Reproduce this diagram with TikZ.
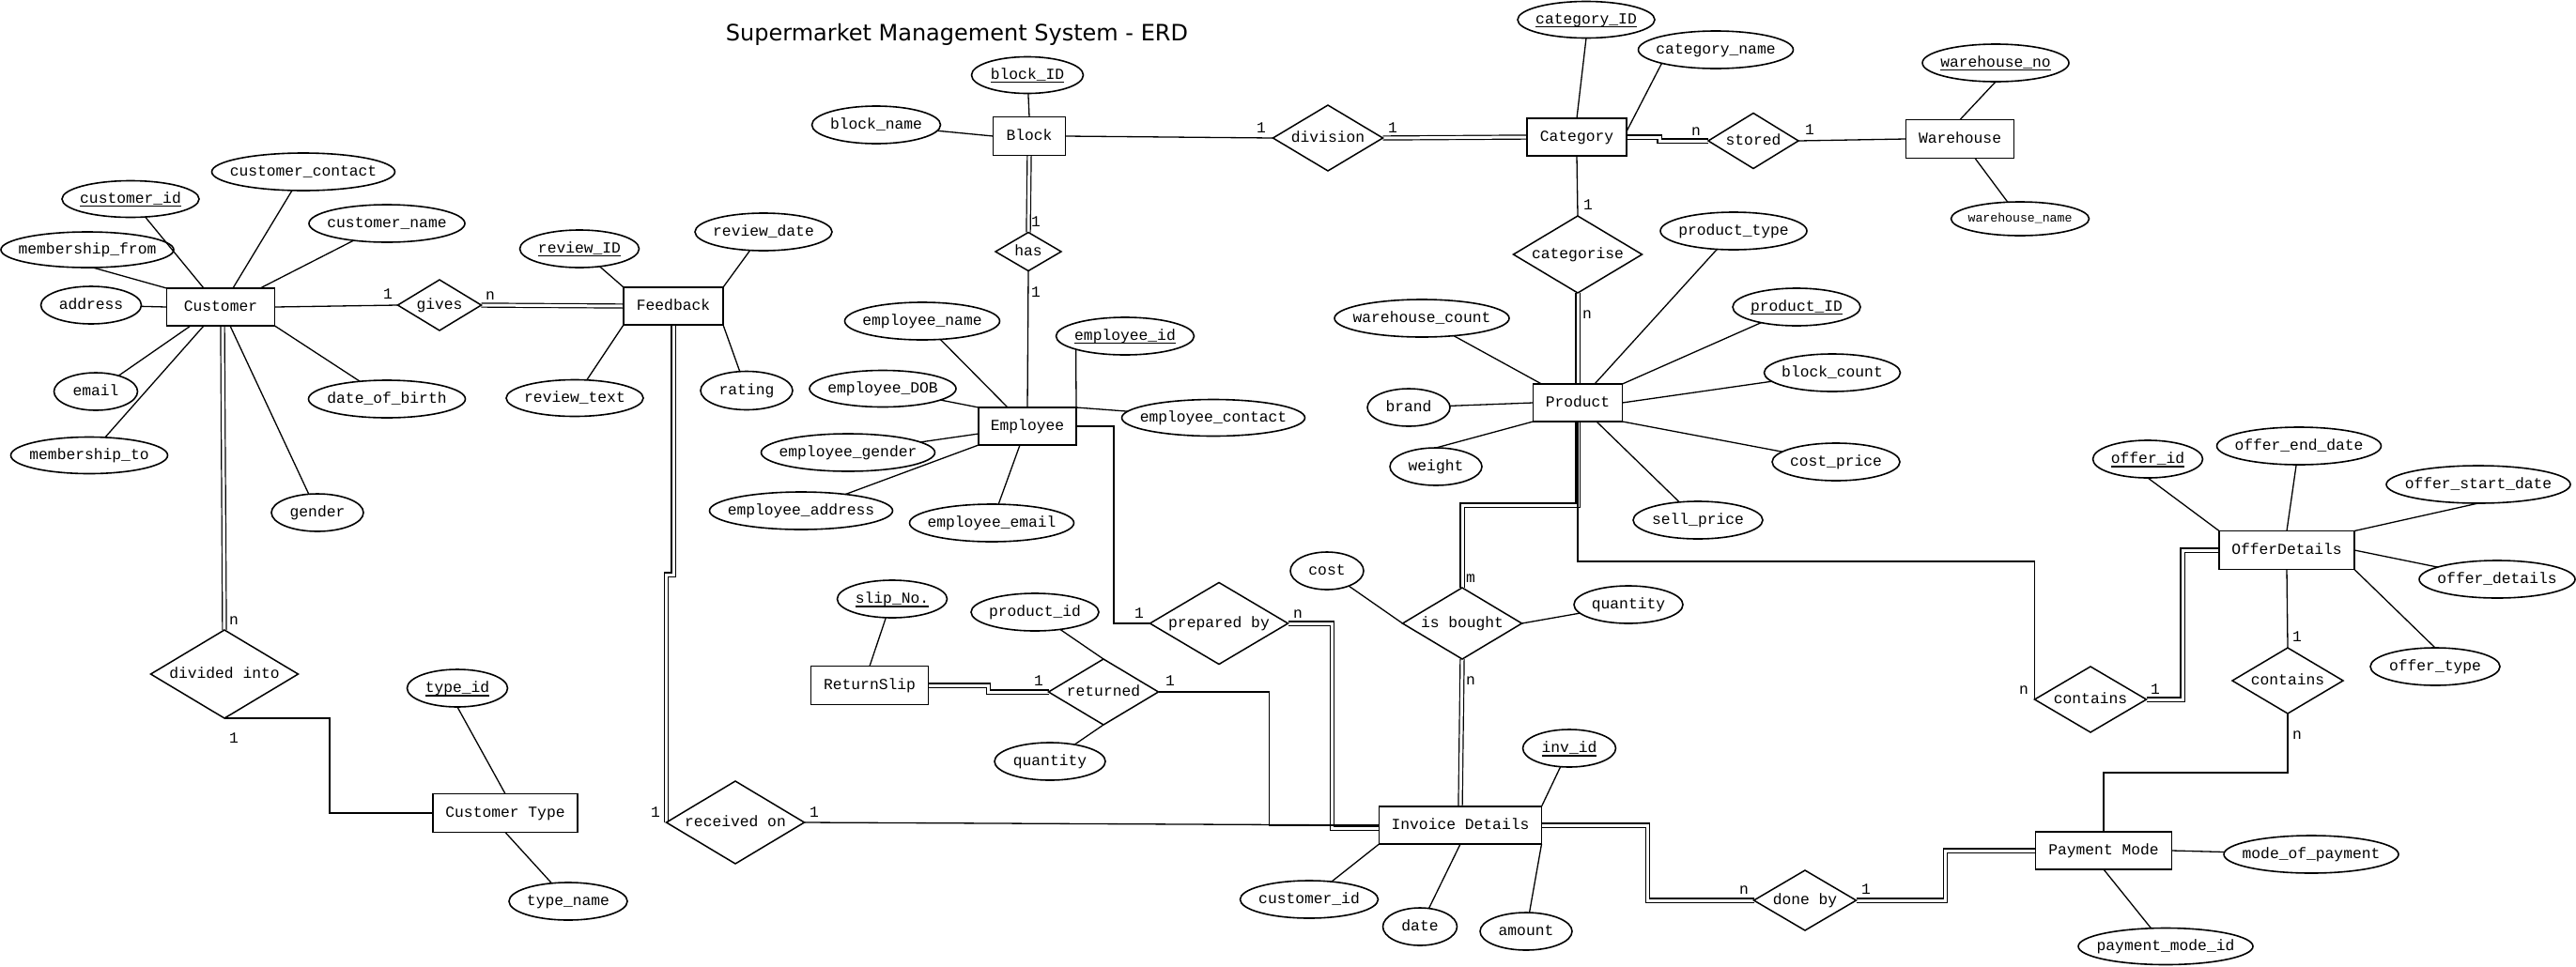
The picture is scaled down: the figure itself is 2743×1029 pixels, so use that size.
\documentclass[tikz,border=0pt]{standalone}
\usepackage{fontspec}
\newfontfamily\erdfont{Liberation Mono}
\newfontfamily\titlefont{DejaVu Sans}
\usetikzlibrary{shapes.geometric,calc}
\pgfdeclarelayer{paper}
\pgfdeclarelayer{bg}
\pgfsetlayers{paper,bg,main}
\newcommand\ct[1]{\makebox[0pt]{\raisebox{-0.3em}[0pt][0pt]{#1}}}
\newcommand\keyu[1]{\setbox0\hbox{#1}\rlap{\rule[-3.6pt]{\wd0}{1.6pt}}\box0}
\begin{document}
\begin{tikzpicture}[x=1pt,y=-1pt,
 every node/.style={inner sep=0pt, outer sep=0pt, font=\erdfont\fontsize{16.3}{18}\selectfont},
 ent/.style 2 args={rectangle, draw, line width=1.8pt, minimum width=#1, minimum height=#2},
 rel/.style 2 args={diamond, draw, line width=1.5pt, minimum width=#1, minimum height=#2},
 attr/.style 2 args={ellipse, draw, line width=1.6pt, minimum width=#1, minimum height=#2},
 lab/.style={},
 conn/.style={line width=1.3pt},
 dbl/.style={double, double distance=3pt, line width=1.2pt},
]
\begin{pgfonlayer}{paper}
\fill[white] (0,0) rectangle (2743,1029);
\end{pgfonlayer}
\useasboundingbox (0,0) rectangle (2743,1029);

\node[font=\titlefont\fontsize{24}{28}\selectfont, anchor=base] (title) at (1019,43) {Supermarket Management System - ERD};

% entities
\node[ent={115}{40}] (cust) at (235,327) {\ct{Customer}};
\node[ent={106}{40}] (fb) at (717,326) {\ct{Feedback}};
\node[ent={77}{41}] (blk) at (1096,145) {\ct{Block}};
\node[ent={104}{40}] (emp) at (1094,454) {\ct{Employee}};
\node[ent={106}{40}] (cat) at (1679,146) {\ct{Category}};
\node[ent={115}{41}] (wh) at (2087,148) {\ct{Warehouse}};
\node[ent={95}{40}] (prod) at (1680,429) {\ct{Product}};
\node[ent={144}{41}] (off) at (2435,586) {\ct{OfferDetails}};
\node[ent={145}{40}] (pay) at (2240,906) {\ct{Payment Mode}};
\node[ent={173}{40}] (inv) at (1555,879) {\ct{Invoice Details}};
\node[ent={125}{41}] (rs) at (926,730) {\ct{ReturnSlip}};
\node[ent={154}{41}] (ctype) at (538,866) {\ct{Customer Type}};

% relationships
\node[rel={89}{54}] (gives) at (468,325) {\ct{gives}};
\node[rel={70}{41}] (has) at (1095,268) {\ct{has}};
\node[rel={117}{70}] (div) at (1414,147) {\ct{division}};
\node[rel={96}{59}] (stored) at (1867,150) {\ct{stored}};
\node[rel={137}{82}] (catz) at (1680,271) {\ct{categorise}};
\node[rel={127}{76}] (isb) at (1557,664) {\ct{is bought}};
\node[rel={147}{87}] (prep) at (1298,664) {\ct{prepared by}};
\node[rel={117}{70}] (ret) at (1175,737) {\ct{returned}};
\node[rel={147}{88}] (recv) at (783,876) {\ct{received on}};
\node[rel={157}{94}] (divi) at (239,718) {\ct{divided into}};
\node[rel={109}{64}] (doneby) at (1922,959) {\ct{done by}};
\node[rel={119}{70}] (cont1) at (2226,745) {\ct{contains}};
\node[rel={118}{70}] (cont2) at (2436,725) {\ct{contains}};

% attributes
\node[attr={146}{39}] (cid) at (139,212) {\ct{\keyu{customer\_id}}};
\node[attr={184}{38}] (mfrom) at (93,266) {\ct{membership\_from}};
\node[attr={195}{40}] (ccontact) at (323,183) {\ct{customer\_contact}};
\node[attr={166}{40}] (cname) at (412,238) {\ct{customer\_name}};
\node[attr={107}{40}] (addr) at (97,325) {\ct{address}};
\node[attr={89}{40}] (email) at (102,417) {\ct{email}};
\node[attr={167}{39}] (mto) at (95,485) {\ct{membership\_to}};
\node[attr={167}{40}] (dob) at (412,425) {\ct{date\_of\_birth}};
\node[attr={98}{40}] (gender) at (338,546) {\ct{gender}};
\node[attr={127}{40}] (rid) at (617,265) {\ct{\keyu{review\_ID}}};
\node[attr={146}{39}] (rtext) at (612,424) {\ct{review\_text}};
\node[attr={146}{40}] (rdate) at (813,247) {\ct{review\_date}};
\node[attr={98}{41}] (rating) at (795,416) {\ct{rating}};
\node[attr={119}{39}] (bid) at (1094,80) {\ct{\keyu{block\_ID}}};
\node[attr={137}{40}] (bname) at (933,133) {\ct{block\_name}};
\node[attr={165}{40}] (ename) at (982,342) {\ct{employee\_name}};
\node[attr={147}{40}] (eid) at (1198,358) {\ct{\keyu{employee\_id}}};
\node[attr={195}{39}] (econtact) at (1292,445) {\ct{employee\_contact}};
\node[attr={156}{39}] (edob) at (940,414) {\ct{employee\_DOB}};
\node[attr={185}{40}] (egender) at (903,482) {\ct{employee\_gender}};
\node[attr={195}{40}] (eaddr) at (853,544) {\ct{employee\_address}};
\node[attr={175}{40}] (eemail) at (1056,557) {\ct{employee\_email}};
\node[attr={146}{39}] (catid) at (1689,21) {\ct{\keyu{category\_ID}}};
\node[attr={165}{40}] (catname) at (1827,53) {\ct{category\_name}};
\node[attr={156}{40}] (wno) at (2125,67) {\ct{\keyu{warehouse\_no}}};
\node[attr={147}{36}, font=\erdfont\fontsize{13.2}{15}\selectfont] (wname) at (2151,233) {\ct{warehouse\_name}};
\node[attr={156}{40}] (ptype) at (1846,246) {\ct{product\_type}};
\node[attr={136}{40}] (pid2) at (1913,327) {\ct{\keyu{product\_ID}}};
\node[attr={186}{40}] (wcount) at (1514,339) {\ct{warehouse\_count}};
\node[attr={145}{40}] (bcount) at (1951,397) {\ct{block\_count}};
\node[attr={88}{40}] (brand) at (1500,434) {\ct{brand}};
\node[attr={98}{40}] (weight) at (1529,497) {\ct{weight}};
\node[attr={136}{40}] (cprice) at (1955,492) {\ct{cost\_price}};
\node[attr={138}{40}] (sprice) at (1808,554) {\ct{sell\_price}};
\node[attr={78}{40}] (cost) at (1413,608) {\ct{cost}};
\node[attr={116}{40}] (bqty) at (1734,644) {\ct{quantity}};
\node[attr={99}{40}] (invid) at (1671,797) {\ct{\keyu{inv\_id}}};
\node[attr={147}{40}] (icust) at (1394,958) {\ct{customer\_id}};
\node[attr={79}{40}] (date) at (1512,987) {\ct{date}};
\node[attr={98}{40}] (amount) at (1625,992) {\ct{amount}};
\node[attr={117}{40}] (oid) at (2287,489) {\ct{\keyu{offer\_id}}};
\node[attr={175}{40}] (oend) at (2448,475) {\ct{offer\_end\_date}};
\node[attr={196}{40}] (ostart) at (2639,516) {\ct{offer\_start\_date}};
\node[attr={166}{40}] (odet) at (2659,617) {\ct{offer\_details}};
\node[attr={138}{40}] (otype) at (2593,710) {\ct{offer\_type}};
\node[attr={186}{40}] (mop) at (2461,910) {\ct{mode\_of\_payment}};
\node[attr={186}{39}] (pmid) at (2306,1008) {\ct{payment\_mode\_id}};
\node[attr={117}{40}] (slip) at (950,638) {\ct{\keyu{slip\_No.}}};
\node[attr={136}{40}] (rpid) at (1102,652) {\ct{product\_id}};
\node[attr={118}{40}] (rqty) at (1118,811) {\ct{quantity}};
\node[attr={107}{40}] (tid) at (487,733) {\ct{\keyu{type\_id}}};
\node[attr={126}{40}] (tname) at (605,960) {\ct{type\_name}};

% cardinality labels
\node[lab] (l1) at (413,314) {\ct{1}};
\node[lab] (l2) at (522,315) {\ct{n}};
\node[lab] (l3) at (1103,237) {\ct{1}};
\node[lab] (l4) at (1103,312) {\ct{1}};
\node[lab] (l5) at (1343,137) {\ct{1}};
\node[lab] (l6) at (1483,137) {\ct{1}};
\node[lab] (l7) at (1806,140) {\ct{n}};
\node[lab] (l8) at (1927,139) {\ct{1}};
\node[lab] (l9) at (1691,219) {\ct{1}};
\node[lab] (l10) at (1690,335) {\ct{n}};
\node[lab] (l11) at (1566,616) {\ct{m}};
\node[lab] (l12) at (1566,725) {\ct{n}};
\node[lab] (l13) at (2155,735) {\ct{n}};
\node[lab] (l14) at (2295,735) {\ct{1}};
\node[lab] (l15) at (2446,679) {\ct{1}};
\node[lab] (l16) at (2446,783) {\ct{n}};
\node[lab] (l17) at (1857,948) {\ct{n}};
\node[lab] (l18) at (1987,948) {\ct{1}};
\node[lab] (l19) at (1213,654) {\ct{1}};
\node[lab] (l20) at (1382,654) {\ct{n}};
\node[lab] (l21) at (1106,726) {\ct{1}};
\node[lab] (l22) at (1246,726) {\ct{1}};
\node[lab] (l23) at (698,866) {\ct{1}};
\node[lab] (l24) at (867,866) {\ct{1}};
\node[lab] (l25) at (249,661) {\ct{n}};
\node[lab] (l26) at (249,787) {\ct{1}};

\begin{pgfonlayer}{bg}
% double (total participation) lines first
\draw[dbl] (gives.east) -- (fb.west);
\draw[dbl] (fb.south) -- ($(fb.south)+(0,266)$) -| (recv.west);
\draw[dbl] (blk.south) -- (has.north);
\draw[dbl] (div.east) -- (cat.west);
\draw[dbl] (prep.east) -| ($(inv.west)+(-50,3)$) -- ($(inv.west)+(0,3)$);
\draw[dbl] (cat.east) -- ($(cat.east)+(35,0)$) |- (stored.west);
\draw[dbl] (catz.south) -- (prod.north);
\draw[dbl] (prod.south) -- ($(prod.south)+(0,89)$) -| (isb.north);
\draw[dbl] (isb.south) -- (inv.north);
\draw[dbl] (inv.east) -| ($(doneby.west)+(-113,0)$) -- (doneby.west);
\draw[dbl] (doneby.east) -| ($(pay.west)+(-96,0)$) -- (pay.west);
\draw[dbl] (cont1.east) -| ($(off.west)+(-39,0)$) -- (off.west);
\draw[dbl] (rs.east) -- ($(rs.east)+(64,0)$) |- (ret.west);
\draw[dbl] ($(cust.south)+(2,0)$) -- (divi.north);

% customer
\draw[conn] (cid) -- ($(cust.north)+(-18,0)$);
\draw[conn] (mfrom.287) -- (cust.north west);
\draw[conn] (ccontact) -- ($(cust.north)+(13,0)$);
\draw[conn] (cname) -- ($(cust.north)+(42,0)$);
\draw[conn] (addr) -- (cust.west);
\draw[conn] (email) -- ($(cust.south)+(-32,0)$);
\draw[conn] (mto) -- ($(cust.south)+(-18,0)$);
\draw[conn] (gender) -- ($(cust.south)+(10,0)$);
\draw[conn] (dob) -- (cust.south east);
\draw[conn] (cust.east) -- (gives.west);
% feedback
\draw[conn] (rid) -- (fb.north west);
\draw[conn] (rtext) -- (fb.south west);
\draw[conn] (rdate) -- (fb.north east);
\draw[conn] (rating) -- (fb.south east);
% block
\draw[conn] (bid) -- (blk.north);
\draw[conn] (bname) -- (blk.west);
\draw[conn] (has.south) -- (emp.north);
\draw[conn] (blk.east) -- (div.west);
% employee
\draw[conn] (ename) -- ($(emp.north)+(-21,0)$);
\draw[conn] (eid.195) -- (emp.north east);
\draw[conn] (econtact) -- (emp.north east);
\draw[conn] (edob) -- (emp.north west);
\draw[conn] (egender) -- ($(emp.west)+(0,8)$);
\draw[conn] (eaddr) -- (emp.south west);
\draw[conn] (eemail) -- ($(emp.south)+(-8,0)$);
\draw[conn] (emp.east) -- ($(emp.east)+(40,0)$) |- (prep.west);
% category & warehouse
\draw[conn] (catid.south) -- (cat.north);
\draw[conn] (catname.194) -- ($(cat.east)+(0,-6)$);
\draw[conn] (stored.east) -- (wh.west);
\draw[conn] (wno.south) -- (wh.north);
\draw[conn] (wname) -- ($(wh.south)+(16,0)$);
\draw[conn] (cat.south) -- (catz.north);
% product
\draw[conn] (wcount) -- ($(prod.north west)+(9,0)$);
\draw[conn] (ptype) -- ($(prod.north)+(18,0)$);
\draw[conn] (pid2) -- (prod.north east);
\draw[conn] (bcount) -- (prod.east);
\draw[conn] (brand) -- (prod.west);
\draw[conn] (weight.north) -- (prod.south west);
\draw[conn] (cprice) -- (prod.south east);
\draw[conn] (sprice) -- ($(prod.south)+(20,0)$);
\draw[conn] (prod.south) -- ($(prod.south)+(0,149)$) -| (cont1.west);
\draw[conn] (cost) -- (isb.west);
\draw[conn] (bqty) -- (isb.east);
% invoice
\draw[conn] (invid) -- (inv.north east);
\draw[conn] (icust) -- (inv.south west);
\draw[conn] (date) -- (inv.south);
\draw[conn] (amount) -- (inv.south east);
\draw[conn] (recv.east) -- (inv.west);
\draw[conn] (ret.east) -| ($(inv.west)+(-117,0)$) -- (inv.west);
% payment & offers
\draw[conn] (mop) -- (pay.east);
\draw[conn] (pmid) -- (pay.south);
\draw[conn] (pay.north) -- ($(pay.north)+(0,-63)$) -| (cont2.south);
\draw[conn] (cont2.north) -- (off.south);
\draw[conn] (oid.south) -- (off.north west);
\draw[conn] (oend) -- (off.north);
\draw[conn] (ostart.south) -- (off.north east);
\draw[conn] (odet) -- (off.east);
\draw[conn] (otype.north) -- (off.south east);
% return slip
\draw[conn] (slip) -- (rs.north);
\draw[conn] (rpid) -- (ret.north);
\draw[conn] (rqty) -- (ret.south);
% customer type
\draw[conn] (divi.south) -| ($(ctype.west)+(-110,0)$) -- (ctype.west);
\draw[conn] (tid.south) -- (ctype.north);
\draw[conn] (tname) -- (ctype.south);
\end{pgfonlayer}
\end{tikzpicture}
\end{document}
